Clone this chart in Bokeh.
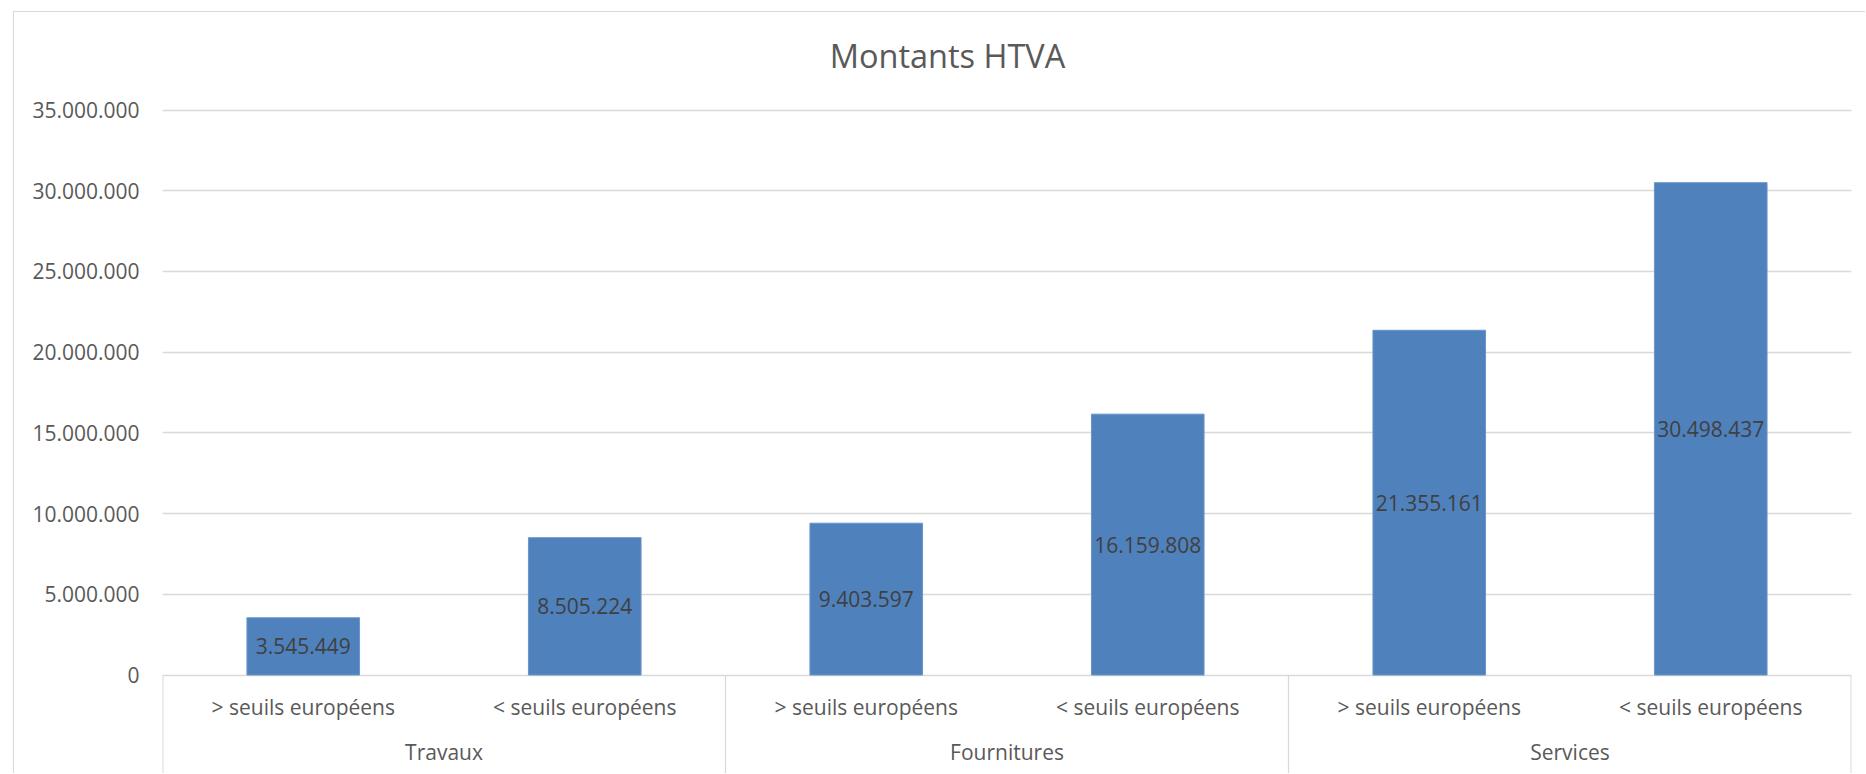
from bokeh.plotting import figure
from bokeh.models import FactorRange, FixedTicker, ColumnDataSource
from bokeh.core.properties import value
from bokeh.embed import file_html
from bokeh.resources import INLINE

# ---- data ----
groups = ["Travaux", "Fournitures", "Services"]
subcats = ["> seuils européens", "< seuils européens"]
values = [3545449, 8505224, 9403597, 16159808, 21355161, 30498437]
y_ticks = [0, 5000000, 10000000, 15000000, 20000000, 25000000, 30000000, 35000000]
y_tick_labels = ["0", "5.000.000", "10.000.000", "15.000.000", "20.000.000",
                 "25.000.000", "30.000.000", "35.000.000"]
title_text = "Montants HTVA"

# ---- layout constants (page pixels) ----
PAGE_W, PAGE_H = 1866, 774
OFFX, OFFY = 14, 12            # canvas origin (inside the 1px chart border at 13, 11)
FIG_W, FIG_H = PAGE_W - OFFX, PAGE_H - OFFY
FRAME_L, FRAME_R = 162 - OFFX, 1851 - OFFX
ZERO_PX, TOP_TICK_PX = 674.5 - OFFY, 109.5 - OFFY
TITLE_X, TITLE_Y = 947 - OFFX, 55 - OFFY
FONT = "Open Sans"
GRID = "#d9d9d9"
TXT = "#595959"

upp = (y_ticks[-1] - y_ticks[0]) / (ZERO_PX - TOP_TICK_PX)   # data units per pixel
y_start = -(FIG_H - ZERO_PX) * upp
y_end = y_ticks[-1] + TOP_TICK_PX * upp

factors = [(g, s) for g in groups for s in subcats]
n = len(factors)
x_per_px = n / (FRAME_R - FRAME_L)

p = figure(width=FIG_W, height=FIG_H, output_backend="svg", toolbar_location=None,
           x_range=FactorRange(*factors, group_padding=0, range_padding=0),
           y_range=(y_start, y_end),
           min_border_left=FRAME_L, min_border_right=FIG_W - FRAME_R,
           min_border_top=0, min_border_bottom=0,
           styles={"margin-left": f"{OFFX - 1}px", "margin-top": f"{OFFY - 1}px",
                   "border-left": f"1px solid {GRID}", "border-top": f"1px solid {GRID}"})
p.title.visible = False
p.outline_line_color = None
p.background_fill_color = "white"
p.border_fill_color = "white"

# axes
p.xaxis.visible = False
p.xgrid.visible = False
yax = p.yaxis[0]
yax.ticker = FixedTicker(ticks=y_ticks)
yax.major_label_overrides = {t: l for t, l in zip(y_ticks, y_tick_labels)}
yax.axis_line_color = None
yax.major_tick_line_color = None
yax.minor_tick_line_color = None
yax.major_tick_out = 0
yax.major_label_standoff = 23
yax.major_label_text_font = FONT
yax.major_label_text_font_size = "21px"
yax.major_label_text_color = TXT
p.ygrid.ticker = FixedTicker(ticks=y_ticks)
p.ygrid.grid_line_color = GRID
p.ygrid.grid_line_width = 1.3

# bars
src = ColumnDataSource(dict(x=factors, top=values, mid=[v / 2 for v in values],
                            lab=[f"{v:,}".replace(",", ".") for v in values]))
p.vbar(x="x", top="top", width=0.4, source=src, fill_color="#4f81bd", line_color="#6b95c8",
       line_width=1)
p.text(x="x", y="mid", text="lab", source=src, text_align="center", text_baseline="middle",
       text_font=value(FONT), text_font_size="21px", text_color="#404040")

# category labels (two levels)
sub_y = -32.2 * upp
grp_y = -77.2 * upp
p.text(x=factors, y=[sub_y] * n, text=[s for _, s in factors], text_align="center",
       text_baseline="middle", text_font=value(FONT), text_font_size="21px", text_color=TXT)
gsize = len(subcats)
gx = [g * gsize + gsize / 2 for g in range(len(groups))]
p.text(x=gx, y=[grp_y] * len(groups), text=groups, text_align="center",
       text_baseline="middle", text_font=value(FONT), text_font_size="21px", text_color=TXT)

# separators between groups (and at edges)
bx = [g * gsize for g in range(len(groups) + 1)]
p.segment(x0=bx, x1=bx, y0=[0] * len(bx), y1=[y_start] * len(bx), line_color=GRID,
          line_width=[2 if b in (0, n) else 1.3 for b in bx])

# title
title_x = (TITLE_X - FRAME_L) * x_per_px
title_y = (ZERO_PX - TITLE_Y) * upp
p.text(x=[title_x], y=[title_y], text=[title_text], text_align="center", text_baseline="middle",
       text_font=value(FONT), text_font_size="32.5px", text_color=TXT)

open("out.html", "w").write(file_html(p, INLINE))
